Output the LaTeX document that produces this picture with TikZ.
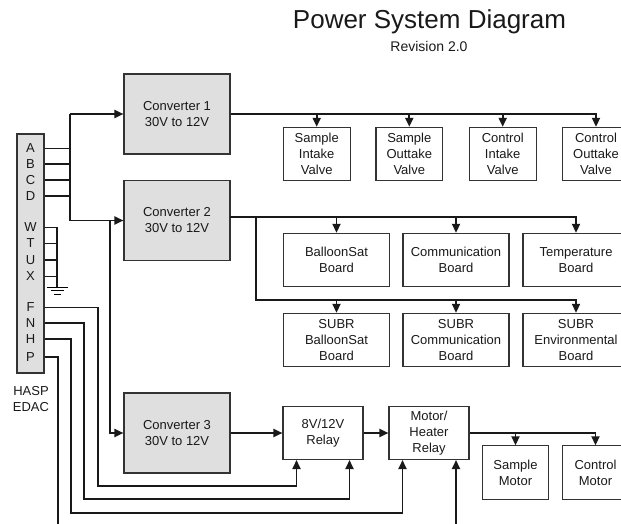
\documentclass[tikz,border=0pt]{standalone}
\usepackage{fontspec}
\setmainfont{Liberation Sans}
\usetikzlibrary{arrows.meta}
\begin{document}
\begin{tikzpicture}[x=1pt,y=-1pt,
  txt/.style={font=\fontsize{13}{16}\selectfont, text=black!90},
  conv/.style={txt, draw=black!80, fill=gray!25, line width=1.1pt, minimum width=106pt, minimum height=80pt, align=center, inner sep=0pt},
  sbox/.style={txt, draw=black!80, line width=1.1pt, minimum width=66.7pt, minimum height=53.3pt, align=center, inner sep=0pt},
  wbox/.style={sbox, minimum width=106pt},
  rbox/.style={sbox, minimum width=80pt},
  wire/.style={line width=1.9pt, draw=black!90},
  arr/.style={wire, -{Triangle[length=9pt,width=8pt]}},
  pin/.style={txt, inner sep=0pt}]
\useasboundingbox (0,0) rectangle (621,524);

% title
\node[anchor=base, font=\fontsize{26}{30}\selectfont, text=black!90] (title) at (429.5,29) {Power System Diagram};
\node[anchor=base, font=\fontsize{14}{16}\selectfont, text=black!90] (rev) at (429,51.5) {Revision 2.0};

% EDAC connector bar
\node[draw=black!80, fill=gray!25, line width=1.1pt, minimum width=27pt, minimum height=239pt, inner sep=0pt] (edac) at (30.5,253.5) {};
\node[pin] (lA) at (30.5,148.5) {A};
\node[pin] (lB) at (30.5,164) {B};
\node[pin] (lC) at (30.5,180) {C};
\node[pin] (lD) at (30.5,196) {D};
\node[pin] (lW) at (30.5,227.5) {W};
\node[pin] (lT) at (30.5,243.5) {T};
\node[pin] (lU) at (30.5,260) {U};
\node[pin] (lX) at (30.5,276.5) {X};
\node[pin] (lF) at (30.5,307.5) {F};
\node[pin] (lN) at (30.5,323) {N};
\node[pin] (lH) at (30.5,339) {H};
\node[pin] (lP) at (30.5,357) {P};
\node[txt, align=center, inner sep=0pt] (hasp) at (31,399) {HASP\\EDAC};

% converters
\node[conv] (c1) at (177,114) {Converter 1\\30V to 12V};
\node[conv] (c2) at (177,220.5) {Converter 2\\30V to 12V};
\node[conv] (c3) at (177,433) {Converter 3\\30V to 12V};

% valves
\node[sbox] (v1) at (316.7,154) {Sample\\Intake\\Valve};
\node[sbox] (v2) at (409.3,154) {Sample\\Outtake\\Valve};
\node[sbox] (v3) at (502.7,154) {Control\\Intake\\Valve};
\node[sbox] (v4) at (596,154) {Control\\Outtake\\Valve};

% boards
\node[wbox] (b1) at (336.5,260) {BalloonSat\\Board};
\node[wbox] (b2) at (456,260) {Communication\\Board};
\node[wbox] (b3) at (576,260) {Temperature\\Board};
\node[wbox] (s1) at (336.5,340) {SUBR\\BalloonSat\\Board};
\node[wbox] (s2) at (456,340) {SUBR\\Communication\\Board};
\node[wbox] (s3) at (576,340) {SUBR\\Environmental\\Board};

% relays and motors
\node[rbox] (r1) at (323,433) {8V/12V\\Relay};
\node[rbox] (r2) at (429,433) {Motor/\\Heater\\Relay};
\node[sbox] (m1) at (515.5,472.5) {Sample\\Motor};
\node[sbox] (m2) at (595.5,472.5) {Control\\Motor};

% junction coordinates
\coordinate (busT) at (70,114);
\coordinate (busB) at (70,220.5);
\coordinate (br3) at (110,220.5);
\coordinate (gnd) at (57.3,287.3);
\coordinate (o2) at (230,217);
\coordinate (br2) at (255.7,217);
\coordinate (br2b) at (255.7,300);
\coordinate (fC) at (97.7,485.7);
\coordinate (nC) at (84,499);
\coordinate (hC) at (70.7,513);
\coordinate (pEnd) at (57.7,524);
\coordinate (fIn) at (296.5,460);
\coordinate (nIn) at (349.5,460);
\coordinate (hIn) at (402.5,460);
\coordinate (pIn) at (456,460);
\coordinate (pBot) at (456,524);

% A-D bus
\foreach \p in {lA,lB,lC,lD}
  \draw[wire] (\p -| edac.east) -- (\p -| busT);
\draw[wire] (busT) -- (busB);
\draw[arr] (busT) -- (c1);
\draw[arr] (busB) -- (c2);
\draw[arr] (br3) |- (c3);

% W T U X to ground
\draw[wire] (lW -| edac.east) -| (gnd);
\foreach \p in {lT,lU,lX}
  \draw[wire] (\p -| edac.east) -- (\p -| gnd);
\draw[line width=1.2pt] ([xshift=-10.8pt]gnd) -- ([xshift=10.8pt]gnd);
\draw[line width=1.2pt] ([xshift=-6.6pt,yshift=-3.4pt]gnd) -- ([xshift=6.6pt,yshift=-3.4pt]gnd);
\draw[line width=1.2pt] ([xshift=-3.4pt,yshift=-6.8pt]gnd) -- ([xshift=3.4pt,yshift=-6.8pt]gnd);

% converter 1 to valves
\draw[arr] (c1.east) -| (v4.north);
\foreach \v in {v1,v2,v3}
  \draw[arr] (\v.north |- c1.east) -- (\v.north);

% converter 2 to boards
\draw[arr] (o2) -| (b3.north);
\foreach \b in {b1,b2}
  \draw[arr] (\b.north |- o2) -- (\b.north);
\draw[arr] (br2) -- (br2b) -| (s3.north);
\foreach \b in {s1,s2}
  \draw[arr] (\b.north |- br2b) -- (\b.north);

% converter 3 chain
\draw[arr] (c3) -- (r1);
\draw[arr] (r1) -- (r2);
\draw[arr] (r2.east) -| (m2.north);
\draw[arr] (m1.north |- r2.east) -- (m1.north);

% F N H P control lines
\draw[arr] (lF -| edac.east) -| (fC) -| (fIn);
\draw[arr] (lN -| edac.east) -| (nC) -| (nIn);
\draw[arr] (lH -| edac.east) -| (hC) -| (hIn);
\draw[wire] (lP -| edac.east) -| (pEnd);
\draw[arr] (pBot) -- (pIn);
\end{tikzpicture}
\end{document}
